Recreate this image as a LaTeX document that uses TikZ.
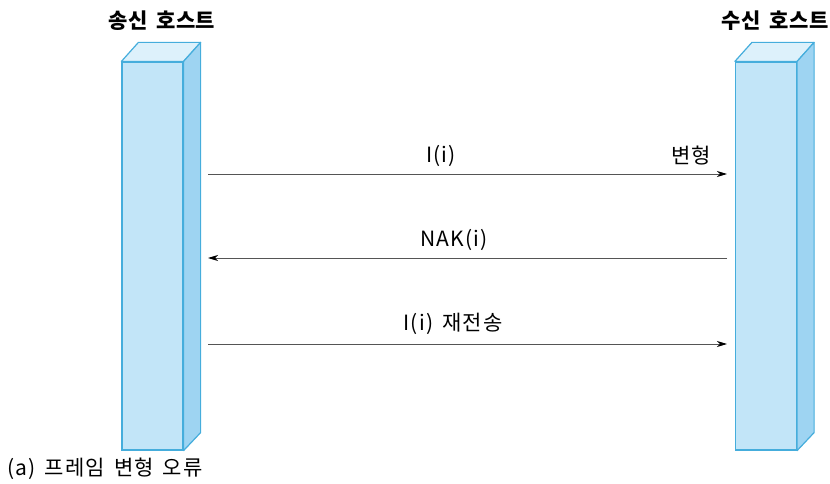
\documentclass[tikz,border=0pt]{standalone}
\usepackage{fontspec}
\setmainfont{Noto Sans CJK KR}
\newfontfamily\lblfont[LetterSpace=6,WordSpace=1.5]{Noto Sans CJK KR}
\newfontfamily\ttlfont[LetterSpace=3,WordSpace=1.5]{Noto Sans CJK KR}
\usetikzlibrary{arrows.meta,calc}
\definecolor{frontc}{HTML}{C2E5F8}
\definecolor{sidec}{HTML}{9ED4F2}
\definecolor{topc}{HTML}{DDF1FB}
\definecolor{edgec}{HTML}{45ADDC}
\definecolor{linec}{HTML}{555555}
\tikzset{
  x=1pt,y=-1pt,
  hostfront/.style={draw=edgec,fill=frontc,line width=1.2pt,minimum width=61pt,minimum height=388pt,inner sep=0pt},
  hostside/.style={draw=edgec,fill=sidec,line width=1.2pt,line join=round},
  hosttop/.style={draw=edgec,fill=topc,line width=1.2pt,line join=round},
  msg/.style={draw=linec,line width=0.9pt,-{Stealth[length=10pt,width=6pt,inset=3pt,black]}},
  title/.style={font=\ttlfont\fontsize{21}{24}\selectfont\bfseries,inner sep=0pt},
  lbl/.style={font=\lblfont\fontsize{21}{24}\selectfont,inner sep=0pt}
}
\begin{document}
\begin{tikzpicture}
\useasboundingbox (0,0) rectangle (830,484);
% hosts
\node[hostfront] (L) at (152.5,256) {};
\node[hostfront] (R) at (766,256) {};
\foreach \h in {L,R}{
  \draw[hosttop] (\h.north west) -- ++(17,-19) -- ($(\h.north east)+(17,-19)$) -- (\h.north east) -- cycle;
  \draw[hostside] (\h.north east) -- ++(17,-19) -- ($(\h.south east)+(17,-18)$) -- (\h.south east) -- cycle;
}
% titles
\node[title] (tL) at (162,21) {송신 호스트};
\node[title] (tR) at (775,21) {수신 호스트};
% message endpoints
\coordinate (a1s) at (208,174); \coordinate (a1e) at (727,174);
\coordinate (a2s) at (727,258); \coordinate (a2e) at (208,258);
\coordinate (a3s) at (208,344); \coordinate (a3e) at (727,344);
\draw[msg] (a1s) -- (a1e);
\draw[msg] (a2s) -- (a2e);
\draw[msg] (a3s) -- (a3e);
% labels
\node[lbl] (m1) at (441,156) {I(i)};
\node[lbl] (m1b) at (691,156) {변형};
\node[lbl] (m2) at (454,240) {NAK(i)};
\node[lbl] (m3) at (453,324) {I(i) 재전송};
\node[lbl,anchor=west] (cap) at (7,469) {(a) 프레임 변형 오류};
\end{tikzpicture}
\end{document}
